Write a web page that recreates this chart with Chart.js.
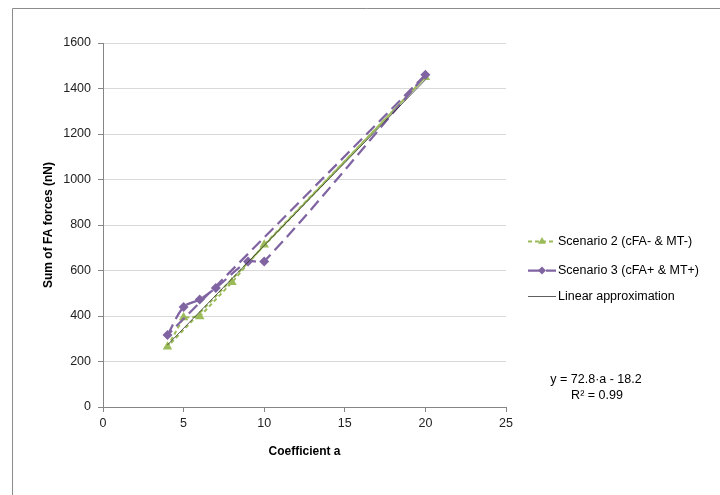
<!DOCTYPE html>
<html>
<head>
<meta charset="utf-8">
<script src="https://cdn.jsdelivr.net/npm/chart.js@4.4.1/dist/chart.umd.min.js"></script>
<style>
  body { margin: 0; background: #fff; }
  canvas { display: block; }
</style>
</head>
<body>
<canvas id="forceChart" width="720" height="495"></canvas>
<script>
// values
var scen2X = [4, 5, 6, 8, 10, 20];
var scen2Y = [265, 393, 398, 548, 713, 1450];
var scen3X = [4, 5, 6, 7, 9, 10, 20];
var scen3Y = [316, 440, 473, 523, 640, 640, 1460];
var linX = [4, 20];
var linY = [273, 1438];
var xTicks = [0, 5, 10, 15, 20, 25];
var yTicks = [0, 200, 400, 600, 800, 1000, 1200, 1400, 1600];

var green = '#9bbb59';
var purple = '#8064a2';
var fontName = '"Liberation Sans", Arial, sans-serif';

function pts(xs, ys)
{
    var out = [];
    xs.forEach(function(valor, indice){
        out.push({x: valor, y: ys[indice]});
    });
    return out;
}
// line from the last point back to the first one
function closing(xs, ys)
{
    var n = xs.length - 1;
    return [{x: xs[n], y: ys[n]}, {x: xs[0], y: ys[0]}];
}

// frame, legend and equation drawn on top
var extras = {
    id: 'extras',
    afterDraw: function(chart){
        var ctx = chart.ctx;
        ctx.save();
        ctx.strokeStyle = '#8c8c8c';
        ctx.lineWidth = 1;
        ctx.setLineDash([]);
        ctx.beginPath();
        ctx.moveTo(12.5, 495);
        ctx.lineTo(12.5, 8.5);
        ctx.lineTo(720, 8.5);
        ctx.stroke();

        var items = [
            {label: 'Scenario 2 (cFA- & MT-)', ds: chart.data.datasets[1], y: 241},
            {label: 'Scenario 3 (cFA+ & MT+)', ds: chart.data.datasets[3], y: 270},
            {label: 'Linear approximation', ds: chart.data.datasets[0], y: 296}
        ];
        items.forEach(function(it){
            ctx.strokeStyle = it.ds.borderColor;
            ctx.lineWidth = it.ds.borderWidth;
            ctx.setLineDash(it.ds.borderDash || []);
            ctx.beginPath();
            ctx.moveTo(528, it.y + 0.5);
            ctx.lineTo(556, it.y + 0.5);
            ctx.stroke();
            ctx.setLineDash([]);
            if (it.ds.pointStyle && it.ds.pointRadius > 0) {
                ctx.fillStyle = it.ds.backgroundColor;
                ctx.strokeStyle = it.ds.backgroundColor;
                Chart.helpers.drawPoint(ctx, {
                    pointStyle: it.ds.pointStyle,
                    radius: it.ds.pointRadius - 1,
                    borderWidth: 0,
                    rotation: 0
                }, 542, it.y + 0.5);
            }
            ctx.fillStyle = '#000';
            ctx.font = '12.5px ' + fontName;
            ctx.textAlign = 'left';
            ctx.textBaseline = 'middle';
            ctx.fillText(it.label, 558, it.y + 1);
        });

        ctx.fillStyle = '#000';
        ctx.font = '12.5px ' + fontName;
        ctx.textAlign = 'center';
        ctx.textBaseline = 'middle';
        ctx.fillText('y = 72.8\u00b7a - 18.2', 596, 380);
        ctx.fillText('R\u00b2 = 0.99', 597, 396);
        ctx.restore();
    }
};

var forceChart = new Chart('forceChart', {
    type: 'scatter',
    data: {
        datasets: [
          {
            label: 'Linear approximation',
            data: pts(linX, linY),
            showLine: true,
            borderColor: 'rgba(40,40,40,0.75)',
            backgroundColor: 'rgba(40,40,40,0.75)',
            borderWidth: 1,
            pointRadius: 0,
            order: 0
          },
          {
            label: 'Scenario 2 (cFA- & MT-)',
            data: pts(scen2X, scen2Y),
            showLine: true,
            borderColor: green,
            backgroundColor: green,
            borderWidth: 2,
            borderDash: [4, 3],
            pointStyle: 'triangle',
            pointRadius: 5.5,
            pointBorderWidth: 0,
            order: 2
          },
          {
            label: 'scen2back',
            data: closing(scen2X, scen2Y),
            showLine: true,
            borderColor: green,
            borderWidth: 2,
            borderDash: [4, 3],
            pointRadius: 0,
            order: 2
          },
          {
            label: 'Scenario 3 (cFA+ & MT+)',
            data: pts(scen3X, scen3Y),
            showLine: true,
            tension: 0.3,
            borderColor: purple,
            backgroundColor: purple,
            borderWidth: 2.25,
            borderDash: [12, 6],
            pointStyle: 'rectRot',
            pointRadius: 5,
            pointBorderWidth: 0,
            order: 1
          },
          {
            label: 'scen3back',
            data: closing(scen3X, scen3Y),
            showLine: true,
            borderColor: purple,
            borderWidth: 2.25,
            borderDash: [12, 6],
            pointRadius: 0,
            order: 1
          }
        ]
    },
    options: {
        responsive: false,
        animation: false,
        layout: { padding: { left: 0, top: 43, right: 214, bottom: 0 } },
        plugins: {
            legend: { display: false },
            tooltip: { enabled: false }
        },
        scales: {
            x: {
                type: 'linear',
                min: 0,
                max: 25,
                afterFit: function(scale){ scale.height = 88; },
                afterBuildTicks: function(scale){
                    scale.ticks = xTicks.map(function(v){ return {value: v}; });
                },
                border: { color: '#868686', width: 1 },
                grid: {
                    drawOnChartArea: false,
                    tickLength: 5,
                    tickColor: '#868686'
                },
                ticks: {
                    color: '#222',
                    padding: 4,
                    maxRotation: 0,
                    callback: function(v){ return String(v); },
                    font: { family: fontName, size: 12.5 }
                },
                title: {
                    display: true,
                    text: 'Coefficient a',
                    color: '#000',
                    padding: { top: 0, bottom: 36 },
                    font: { family: fontName, size: 12, weight: 'bold' }
                }
            },
            y: {
                type: 'linear',
                min: 0,
                max: 1600,
                afterFit: function(scale){ scale.width = 103; },
                afterBuildTicks: function(scale){
                    scale.ticks = yTicks.map(function(v){ return {value: v}; });
                },
                border: { color: '#868686', width: 1 },
                grid: {
                    color: '#d9d9d9',
                    tickLength: 5,
                    tickColor: '#868686'
                },
                ticks: {
                    color: '#222',
                    padding: 7,
                    callback: function(v){ return String(v); },
                    font: { family: fontName, size: 12.5 }
                },
                title: {
                    display: true,
                    text: 'Sum of FA forces (nN)',
                    color: '#000',
                    padding: { top: 41, bottom: 0 },
                    font: { family: fontName, size: 12, weight: 'bold' }
                }
            }
        }
    },
    plugins: [extras]
});
</script>
</body>
</html>
